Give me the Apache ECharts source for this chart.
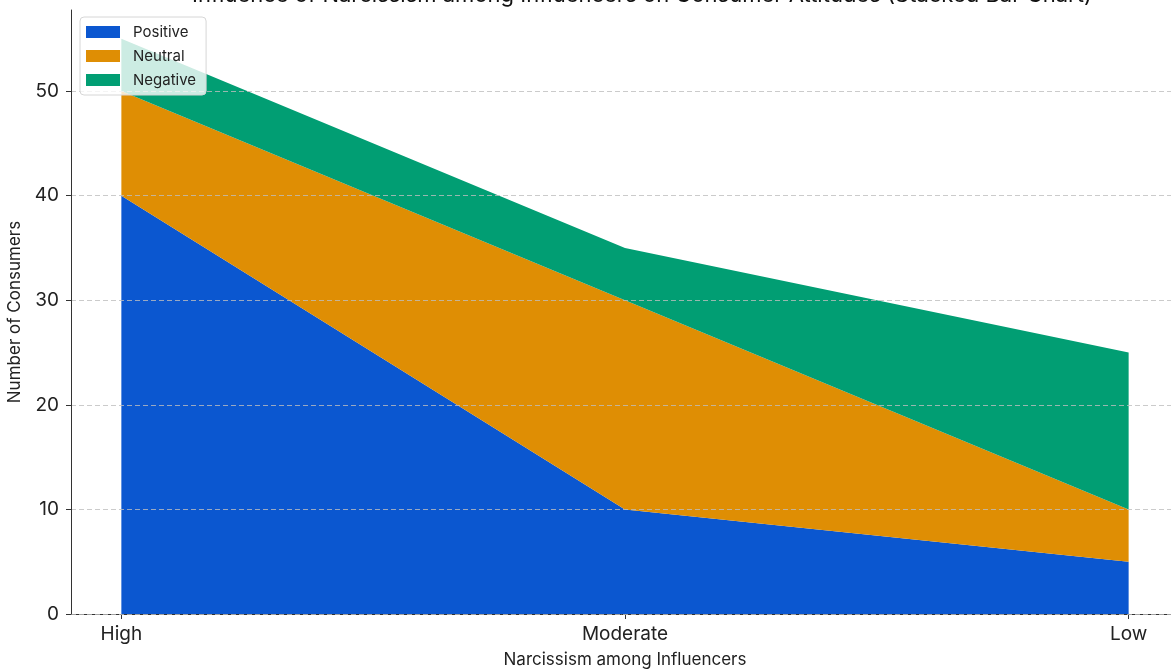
<!DOCTYPE html>
<html>
<head>
<meta charset="utf-8">
<script src="https://cdn.jsdelivr.net/npm/echarts@6/dist/echarts.min.js"></script>
<style>html,body{margin:0;padding:0;background:#fff}#c{width:1171px;height:669px}</style>
</head>
<body>
<div id="c"></div>
<script>
const categories = ['High', 'Moderate', 'Low'];
const positive = [40, 10, 5];
const neutral = [10, 20, 5];
const negative = [5, 5, 15];
const yTicks = [0, 10, 20, 30, 40, 50];

const FONT = 'Inter, "Noto Sans", sans-serif';
const colors = ['#0b57d0', '#df8e04', '#019e73'];

// value first so that it is the stacked dimension; category index second
function pts(arr) { return arr.map((v, i) => [v, i]); }

const chart = echarts.init(document.getElementById('c'), null, {renderer: 'canvas'});
const mk = (name, data, color) => ({
  name, type: 'line', stack: 'total', data: pts(data),
  encode: {x: 1, y: 0},
  showSymbol: false, symbol: 'none', z: 1,
  lineStyle: {width: 0, color},
  itemStyle: {color},
  areaStyle: {color, opacity: 1}
});
chart.setOption({
  animation: false,
  textStyle: {fontFamily: FONT},
  title: {
    text: 'Influence of Narcissism among Influencers on Consumer Attitudes (Stacked Bar Chart)',
    left: 637, textAlign: 'center', top: -21,
    textStyle: {fontFamily: FONT, fontSize: 22, fontWeight: 'normal', color: '#111'}
  },
  legend: {
    orient: 'vertical', left: 80, top: 17,
    icon: 'rect',
    itemWidth: 34, itemHeight: 12, itemGap: 6,
    padding: [6, 10, 6, 6],
    backgroundColor: 'rgba(255,255,255,0.8)',
    borderColor: '#d6d6d6', borderWidth: 1, borderRadius: 4,
    textStyle: {fontFamily: FONT, fontSize: 15, color: '#222', padding: [0, 0, 0, 8], lineHeight: 18},
    itemStyle: {borderWidth: 0},
    data: ['Positive', 'Neutral', 'Negative'],
    z: 10
  },
  grid: {left: 71, right: -8, top: 10, bottom: 55, containLabel: false, outerBoundsMode: 'none'},
  xAxis: {
    type: 'value', min: -0.1, max: 2.1, interval: 1,
    name: 'Narcissism among Influencers', nameLocation: 'middle', nameGap: 37,
    nameTextStyle: {fontFamily: FONT, fontSize: 17, color: '#222'},
    axisLine: {show: true, onZero: false, lineStyle: {color: '#333', width: 1}},
    axisTick: {show: true, length: 5, lineStyle: {color: '#333'}, customValues: [0, 1, 2]},
    axisLabel: {
      fontFamily: FONT, fontSize: 19, color: '#222', margin: 11,
      customValues: [0, 1, 2],
      formatter: v => categories[Math.round(v)] ?? ''
    },
    splitLine: {show: false}
  },
  yAxis: {
    type: 'value', min: 0, max: 57.75, interval: 10, z: 3,
    name: 'Number of Consumers', nameLocation: 'middle', nameGap: 46, nameRotate: 90,
    nameTextStyle: {fontFamily: FONT, fontSize: 17, color: '#222'},
    axisLine: {show: true, onZero: false, lineStyle: {color: '#333', width: 1}},
    axisTick: {show: true, length: 5, lineStyle: {color: '#333'}, customValues: yTicks},
    axisLabel: {fontFamily: FONT, fontSize: 19, color: '#222', margin: 12, customValues: yTicks},
    splitLine: {show: true, lineStyle: {type: [5, 3], color: 'rgba(190,190,190,0.8)', width: 1}}
  },
  series: [
    mk('Positive', positive, colors[0]),
    mk('Neutral', neutral, colors[1]),
    mk('Negative', negative, colors[2])
  ]
});
</script>
</body>
</html>
